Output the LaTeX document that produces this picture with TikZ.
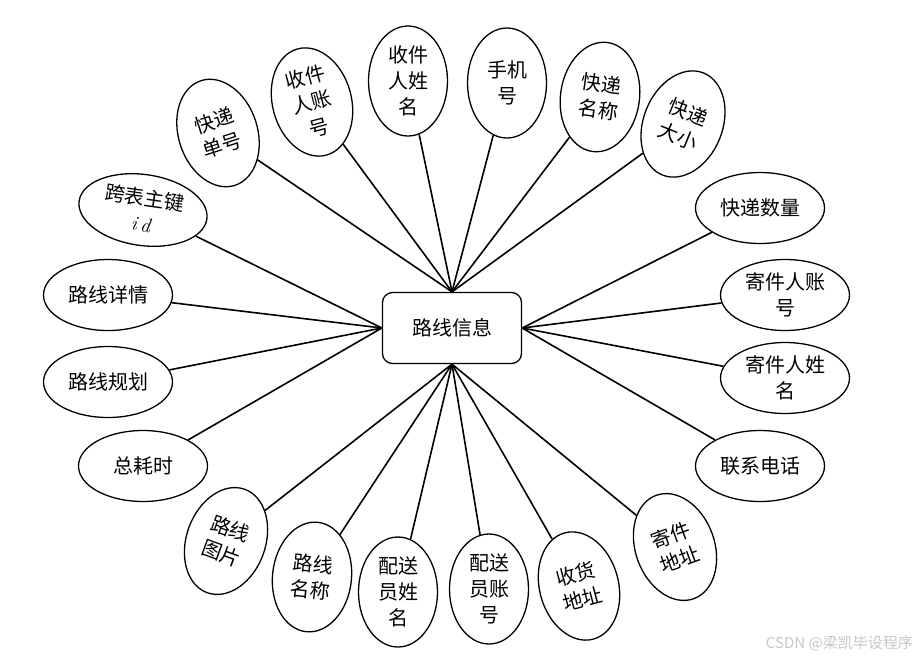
\documentclass[tikz,border=0pt]{standalone}
\usepackage{fontspec}
\newfontfamily\cjk{Noto Sans CJK SC}
\usetikzlibrary{shapes.geometric}
\begin{document}
\begin{tikzpicture}[x=1pt,y=-1pt,
  lbl/.style={font=\cjk\fontsize{20}{26}\selectfont},
  attrv/.style={ellipse, draw, line width=1.3pt, minimum width=79pt, minimum height=110pt, inner sep=0pt, align=center, lbl},
  attrh/.style={ellipse, draw, line width=1.3pt, minimum width=129pt, minimum height=71pt, inner sep=0pt, align=center, lbl},
  entity/.style={rectangle, rounded corners=10pt, draw, line width=1.3pt, minimum width=139pt, minimum height=71pt, lbl},
  link/.style={line width=1.6pt}]
\useasboundingbox (0,0) rectangle (917,659);

\node[entity] (c) at (452,328) {路线信息};

% top group
\node[attrv, rotate=18] (a1) at (218,133) {快递\\单号};
\node[attrv, rotate=15] (a2) at (312,102) {收件\\人账\\号};
\node[attrv] (a3) at (408,81) {收件\\人姓\\名};
\node[attrv] (a4) at (507,83) {手机\\号};
\node[attrv, rotate=-8] (a5) at (600,97) {快递\\名称};
\node[attrv, rotate=-22] (a6) at (683,124) {快递\\大小};

% right group
\node[attrh] (b1) at (760,208) {快递数量};
\node[attrh] (b2) at (785,295) {寄件人账\\号};
\node[attrh] (b3) at (785,378) {寄件人姓\\名};
\node[attrh] (b4) at (760,466) {联系电话};

% bottom group
\node[attrv, rotate=20] (d1) at (675,547) {寄件\\地址};
\node[attrv, rotate=15] (d2) at (579,586) {收货\\地址};
\node[attrv] (d3) at (489,589) {配送\\员账\\号};
\node[attrv] (d4) at (398,592) {配送\\员姓\\名};
\node[attrv, rotate=-6] (d5) at (312,577) {路线\\名称};
\node[attrv, rotate=-20] (d6) at (226,541) {路线\\图片};

% left group
\node[attrh] (e1) at (143,466) {总耗时};
\node[attrh] (e2) at (108,382) {路线规划};
\node[attrh] (e3) at (108,295) {路线详情};
\node[attrh, rotate=-8] (e4) at (143,210) {跨表主键\\{\normalfont\itshape i\,d}};

\foreach \n in {a1,a2,a3,a4,a5,a6} \draw[link] (\n) -- (c.north);
\foreach \n in {b1,b2,b3,b4} \draw[link] (\n) -- (c.east);
\foreach \n in {d1,d2,d3,d4,d5,d6} \draw[link] (\n) -- (c.south);
\foreach \n in {e1,e2,e3,e4} \draw[link] (\n) -- (c.west);

\node[anchor=east, text=black!22, font=\cjk\fontsize{15}{18}\selectfont, inner sep=0pt] (wm) at (913,643) {CSDN @梁凯毕设程序};
\end{tikzpicture}
\end{document}
